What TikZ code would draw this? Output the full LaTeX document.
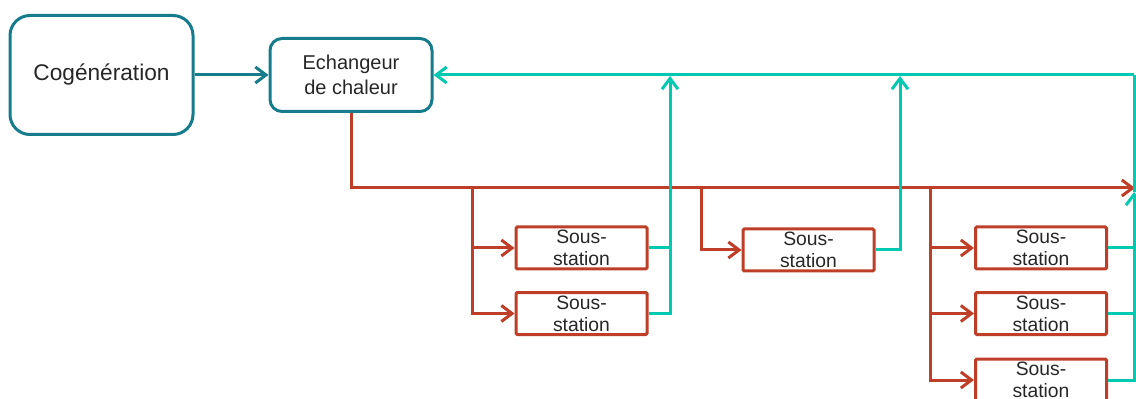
\documentclass[tikz,border=0pt]{standalone}
\usepackage{fontspec}
\setmainfont{Liberation Sans}
\usetikzlibrary{arrows.meta}
\definecolor{dteal}{RGB}{22,124,140}
\definecolor{bteal}{RGB}{0,201,177}
\definecolor{rred}{RGB}{190,62,40}
\definecolor{txt}{RGB}{38,38,38}
\tikzset{
  bigbox/.style={draw=dteal, line width=2.25pt, rounded corners=15pt, minimum width={183*0.75pt}, minimum height={119*0.75pt}, inner sep=0pt, text=txt, font=\fontsize{17}{20}\selectfont},
  exbox/.style={draw=dteal, line width=2.25pt, rounded corners=9pt, minimum width={162*0.75pt}, minimum height={73*0.75pt}, inner sep=0pt, align=center, text=txt, font=\fontsize{15}{18.5}\selectfont},
  ssbox/.style={draw=rred, line width=2.25pt, rounded corners=1pt, minimum width={131*0.75pt}, minimum height={42*0.75pt}, inner sep=0pt, align=center, text=txt, font=\fontsize{14.5}{16.5}\selectfont},
  tip/.style={-{Straight Barb[length=8pt, width=12pt, line width=2.25pt]}},
  redl/.style={draw=rred, line width=2.25pt},
  darkl/.style={draw=dteal, line width=2.25pt},
  tealln/.style={draw=bteal, line width=2.25pt},
}
\begin{document}
\begin{tikzpicture}[x=0.75pt, y=-0.75pt]
\useasboundingbox (0,0) rectangle (1136,399);
\clip (0,0) rectangle (1136,399);
% main boxes
\node[bigbox] (cog) at (101.5,75) {Cogénération};
\node[exbox] (ech) at (351,75) {Echangeur\\de chaleur};
% sous-stations
\node[ssbox] (s11) at (581.5,248) {Sous-\\station};
\node[ssbox] (s12) at (581.5,313.5) {Sous-\\station};
\node[ssbox] (s21) at (808.5,250) {Sous-\\station};
\node[ssbox] (s31) at (1041,248) {Sous-\\station};
\node[ssbox] (s32) at (1041,313.5) {Sous-\\station};
\node[ssbox] (s33) at (1041,380) {Sous-\\station};
% coordinates
\coordinate (rend) at (1135,188);
\coordinate (b1) at (472,188);
\coordinate (b2) at (701,188);
\coordinate (b3) at (930,188);
\coordinate (t1) at (670,76);
\coordinate (t2) at (900,76);
\coordinate (ra) at (1134,192);
\coordinate (tr) at (1134,75);
% connectors
\draw[darkl, tip] (cog.east) -- (ech.west);
\draw[redl, tip] (ech.south) |- (rend);
\draw[redl, tip] (b1) |- (s11.west);
\draw[redl, tip] (b1) |- (s12.west);
\draw[redl, tip] (b2) |- (s21.west);
\draw[redl, tip] (b3) |- (s31.west);
\draw[redl, tip] (b3) |- (s32.west);
\draw[redl, tip] (b3) |- (s33.west);
\draw[tealln, tip] (tr) -- (ech.east);
\draw[tealln, tip] (s12.east) -| (t1);
\draw[tealln] (s11.east) -- (s11.east -| t1);
\draw[tealln, tip] (s21.east) -| (t2);
\draw[tealln, tip] (s33.east) -| (ra);
\draw[tealln] (s31.east) -- (s31.east -| ra);
\draw[tealln] (s32.east) -- (s32.east -| ra);
\draw[tealln] (ra) -- (tr);
\end{tikzpicture}
\end{document}
